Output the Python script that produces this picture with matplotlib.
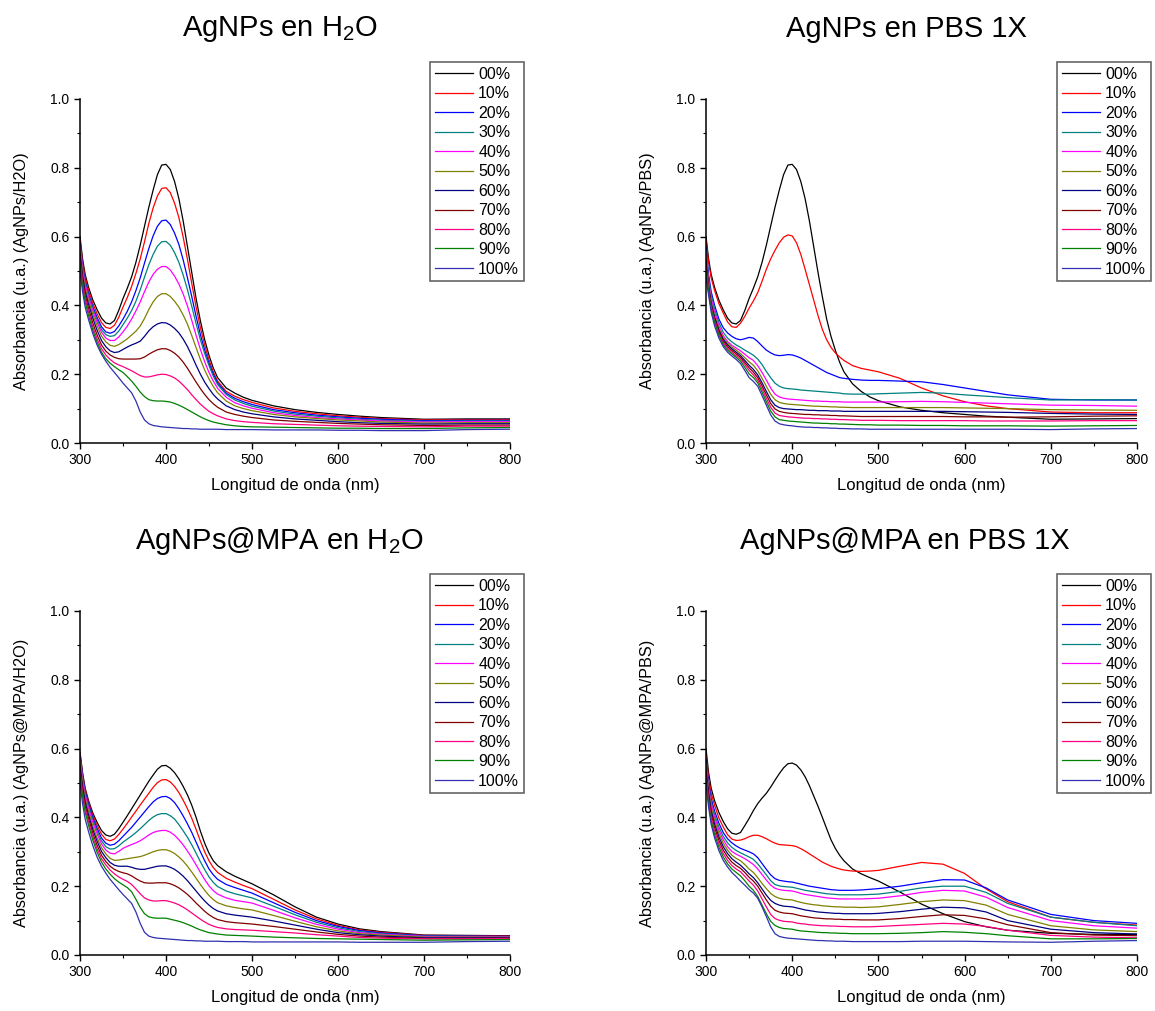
import matplotlib
matplotlib.use("Agg")
import matplotlib.pyplot as plt
from matplotlib.ticker import MultipleLocator

plt.rcParams['font.family'] = ['Liberation Sans', 'DejaVu Sans']
plt.rcParams['mathtext.fontset'] = 'custom'
plt.rcParams['mathtext.rm'] = 'Liberation Sans'

# wavelength grid (nm)
wl = [300, 303, 306, 310, 315, 320, 325, 330, 335, 340, 345, 350, 355, 360, 365, 370,
      375, 380, 385, 390, 395, 400, 405, 410, 415, 420, 425, 430, 435, 440, 445, 450,
      455, 460, 470, 480, 490, 500, 525, 550, 575, 600, 625, 650, 700, 750, 800]

labels = ['00%', '10%', '20%', '30%', '40%', '50%', '60%', '70%', '80%', '90%', '100%']
colors = ['#000000', '#FF0000', '#0000FF', '#008080', '#FF00FF', '#808000',
          '#000080', '#800000', '#FF0080', '#008000', '#3030B0']

# AgNPs en H2O
agnps_h2o = [
    [.60, .535, .49, .452, .415, .387, .363, .349, .346, .356, .385, .42, .45, .483, .525, .575, .63, .685, .735, .78, .808, .81, .795, .76, .71, .645, .57, .495, .42, .355, .30, .255, .218, .19, .16, .145, .133, .124, .108, .097, .089, .083, .078, .074, .069, .07, .07],
    [.59, .525, .48, .443, .405, .375, .35, .336, .333, .342, .365, .395, .423, .455, .493, .535, .585, .638, .683, .718, .74, .742, .728, .697, .655, .598, .533, .463, .395, .335, .285, .242, .207, .18, .15, .136, .126, .118, .102, .092, .085, .079, .075, .071, .067, .068, .068],
    [.58, .515, .47, .433, .395, .364, .338, .323, .319, .324, .34, .36, .383, .41, .443, .48, .523, .565, .602, .63, .646, .648, .635, .61, .577, .532, .48, .425, .368, .315, .27, .232, .20, .175, .145, .13, .12, .112, .097, .088, .081, .076, .072, .069, .065, .066, .066],
    [.575, .51, .465, .428, .39, .357, .33, .315, .31, .312, .325, .344, .363, .385, .412, .445, .482, .518, .548, .572, .585, .586, .575, .553, .525, .488, .445, .397, .347, .30, .26, .225, .194, .17, .141, .125, .115, .107, .093, .084, .078, .073, .069, .066, .063, .064, .064],
    [.57, .505, .46, .423, .383, .35, .322, .305, .298, .298, .308, .323, .34, .36, .384, .41, .44, .468, .49, .505, .513, .513, .503, .485, .462, .433, .398, .356, .313, .272, .236, .205, .18, .159, .133, .117, .108, .101, .088, .08, .074, .07, .067, .064, .061, .062, .062],
    [.56, .495, .45, .413, .373, .34, .311, .294, .284, .281, .286, .294, .303, .314, .325, .34, .362, .388, .41, .426, .434, .434, .426, .412, .395, .372, .345, .312, .277, .243, .212, .186, .164, .146, .122, .108, .10, .094, .083, .076, .071, .067, .064, .061, .058, .059, .059],
    [.55, .485, .44, .403, .362, .327, .298, .28, .268, .263, .265, .272, .279, .285, .29, .296, .31, .326, .338, .346, .35, .349, .343, .333, .32, .302, .28, .254, .226, .20, .177, .158, .141, .128, .108, .097, .09, .085, .076, .07, .066, .062, .059, .057, .055, .056, .056],
    [.54, .475, .43, .39, .348, .313, .285, .267, .256, .249, .245, .244, .244, .244, .244, .245, .25, .258, .265, .271, .274, .274, .269, .261, .25, .235, .217, .197, .177, .158, .141, .126, .114, .104, .09, .083, .078, .074, .067, .063, .06, .057, .055, .053, .051, .052, .052],
    [.53, .465, .42, .38, .337, .302, .274, .256, .243, .233, .227, .222, .216, .21, .203, .196, .192, .192, .195, .198, .20, .199, .195, .189, .18, .168, .155, .14, .126, .113, .102, .092, .085, .079, .07, .065, .062, .06, .056, .054, .052, .05, .049, .048, .047, .049, .049],
    [.52, .455, .41, .37, .327, .292, .264, .245, .232, .222, .213, .205, .193, .18, .165, .148, .135, .126, .123, .122, .122, .121, .119, .115, .11, .104, .097, .09, .083, .076, .07, .065, .061, .058, .053, .05, .048, .047, .046, .045, .044, .043, .043, .042, .042, .044, .045],
    [.50, .44, .395, .358, .317, .284, .258, .238, .22, .205, .19, .174, .16, .146, .122, .09, .067, .056, .051, .049, .047, .046, .045, .044, .043, .042, .042, .041, .041, .04, .04, .04, .04, .04, .039, .039, .039, .039, .038, .038, .038, .037, .037, .036, .036, .039, .04],
]

# AgNPs en PBS 1X
agnps_pbs = [
    [.60, .535, .49, .452, .415, .387, .363, .349, .346, .356, .385, .42, .45, .483, .525, .575, .63, .685, .735, .78, .808, .81, .795, .76, .71, .645, .57, .495, .425, .36, .31, .27, .235, .207, .172, .15, .134, .123, .105, .095, .088, .083, .078, .075, .069, .07, .071],
    [.59, .525, .48, .443, .405, .378, .352, .338, .336, .348, .368, .392, .413, .437, .47, .505, .535, .56, .582, .598, .605, .602, .582, .548, .505, .46, .415, .37, .33, .30, .278, .262, .25, .24, .225, .217, .212, .207, .188, .16, .137, .12, .108, .10, .09, .088, .088],
    [.57, .49, .44, .40, .36, .335, .32, .31, .303, .30, .303, .307, .305, .295, .282, .27, .262, .256, .254, .255, .257, .256, .252, .247, .24, .233, .226, .219, .212, .205, .20, .195, .19, .188, .185, .183, .182, .182, .18, .178, .17, .16, .15, .14, .127, .125, .125],
    [.56, .48, .43, .39, .35, .322, .305, .294, .285, .278, .27, .263, .255, .244, .228, .208, .19, .174, .165, .16, .158, .157, .156, .154, .153, .152, .151, .15, .149, .148, .147, .146, .145, .143, .142, .142, .142, .143, .145, .147, .145, .14, .136, .132, .125, .126, .125],
    [.55, .47, .42, .38, .34, .312, .295, .284, .276, .268, .258, .248, .24, .225, .205, .183, .16, .142, .134, .13, .128, .127, .126, .125, .124, .123, .122, .122, .121, .121, .12, .12, .12, .119, .119, .119, .119, .119, .12, .121, .12, .118, .116, .114, .11, .109, .107],
    [.54, .46, .41, .37, .332, .306, .29, .279, .27, .26, .248, .236, .226, .21, .188, .165, .142, .126, .118, .115, .113, .112, .111, .11, .109, .108, .107, .107, .106, .106, .105, .105, .104, .104, .103, .103, .103, .103, .103, .103, .103, .102, .101, .10, .097, .096, .095],
    [.53, .455, .405, .365, .328, .301, .285, .274, .264, .254, .24, .226, .214, .198, .175, .15, .126, .11, .103, .10, .099, .098, .097, .097, .096, .095, .095, .094, .094, .094, .093, .093, .093, .092, .092, .092, .092, .092, .092, .092, .092, .091, .09, .089, .086, .084, .083],
    [.52, .45, .40, .36, .323, .296, .28, .269, .259, .249, .234, .219, .206, .19, .166, .14, .115, .099, .092, .089, .087, .086, .085, .084, .083, .083, .082, .082, .081, .081, .08, .08, .079, .079, .078, .077, .077, .077, .077, .077, .077, .076, .076, .075, .076, .078, .079],
    [.51, .445, .395, .355, .318, .291, .275, .264, .254, .244, .228, .211, .198, .182, .157, .13, .104, .087, .08, .078, .076, .075, .074, .073, .072, .072, .071, .071, .07, .07, .069, .069, .068, .068, .067, .066, .066, .066, .065, .065, .065, .065, .064, .064, .064, .065, .065],
    [.50, .44, .39, .35, .313, .286, .27, .259, .249, .238, .22, .201, .19, .175, .148, .12, .093, .076, .068, .066, .064, .063, .062, .061, .06, .059, .058, .058, .057, .057, .056, .056, .055, .055, .054, .053, .053, .052, .052, .051, .051, .05, .05, .05, .049, .05, .051],
    [.48, .43, .38, .34, .305, .28, .264, .253, .243, .231, .211, .19, .179, .165, .138, .11, .082, .064, .056, .053, .051, .05, .048, .047, .046, .046, .045, .045, .044, .044, .043, .043, .042, .042, .041, .041, .04, .04, .04, .04, .04, .04, .04, .04, .039, .041, .042],
]

# AgNPs@MPA en H2O
mpa_h2o = [
    [.59, .53, .485, .448, .412, .385, .362, .349, .345, .351, .367, .386, .405, .425, .445, .465, .485, .505, .523, .54, .55, .551, .543, .53, .512, .49, .465, .435, .40, .36, .325, .296, .274, .26, .242, .229, .218, .207, .175, .14, .11, .09, .076, .068, .058, .057, .056],
    [.585, .525, .48, .443, .405, .376, .351, .336, .332, .337, .35, .366, .383, .401, .418, .436, .453, .47, .487, .501, .509, .51, .503, .49, .472, .45, .425, .397, .365, .331, .30, .274, .254, .24, .223, .212, .202, .193, .162, .131, .105, .086, .073, .066, .057, .056, .055],
    [.58, .52, .475, .438, .398, .367, .34, .325, .319, .322, .332, .345, .358, .371, .386, .401, .416, .431, .445, .455, .46, .461, .455, .443, .425, .404, .381, .356, .328, .30, .274, .25, .233, .22, .205, .196, .188, .18, .152, .124, .10, .083, .071, .064, .056, .055, .054],
    [.575, .515, .47, .432, .392, .36, .332, .315, .308, .309, .317, .328, .337, .346, .356, .367, .379, .391, .401, .408, .411, .411, .405, .395, .379, .361, .342, .32, .296, .271, .248, .227, .211, .199, .186, .178, .172, .166, .142, .117, .095, .079, .068, .062, .055, .054, .053],
    [.57, .51, .465, .426, .385, .352, .323, .305, .296, .294, .301, .31, .316, .321, .326, .332, .34, .349, .356, .36, .362, .362, .357, .348, .335, .32, .302, .283, .262, .24, .219, .201, .187, .177, .166, .159, .155, .151, .13, .108, .089, .075, .065, .06, .054, .053, .052],
    [.56, .50, .455, .416, .374, .34, .312, .294, .281, .275, .276, .278, .28, .282, .284, .286, .29, .295, .30, .304, .306, .306, .302, .295, .285, .273, .258, .241, .223, .205, .188, .173, .161, .152, .143, .138, .134, .131, .115, .098, .082, .07, .062, .058, .052, .052, .051],
    [.55, .49, .445, .406, .364, .33, .301, .283, .269, .261, .258, .258, .258, .255, .251, .249, .249, .252, .255, .258, .259, .259, .255, .249, .24, .229, .216, .201, .186, .171, .157, .145, .135, .128, .12, .116, .113, .11, .099, .087, .075, .065, .059, .055, .05, .05, .05],
    [.54, .48, .435, .396, .353, .318, .29, .272, .258, .249, .243, .239, .236, .23, .222, .215, .21, .209, .209, .21, .21, .21, .207, .202, .195, .186, .176, .164, .151, .139, .127, .117, .109, .103, .097, .094, .092, .09, .083, .075, .067, .06, .055, .052, .048, .048, .049],
    [.53, .47, .425, .386, .343, .308, .28, .262, .247, .236, .227, .22, .214, .205, .192, .178, .166, .16, .157, .157, .158, .158, .155, .151, .146, .139, .131, .122, .113, .104, .096, .089, .084, .08, .076, .074, .073, .072, .068, .064, .059, .055, .051, .049, .047, .047, .048],
    [.52, .46, .415, .376, .333, .298, .27, .25, .235, .222, .212, .204, .196, .184, .162, .138, .12, .111, .108, .107, .107, .107, .104, .101, .098, .094, .089, .084, .078, .073, .069, .065, .063, .061, .058, .057, .056, .055, .052, .05, .048, .047, .046, .045, .043, .044, .045],
    [.50, .44, .395, .358, .317, .284, .258, .238, .22, .205, .19, .176, .163, .15, .125, .092, .066, .055, .051, .049, .048, .047, .046, .045, .044, .043, .042, .042, .041, .041, .04, .04, .04, .04, .039, .039, .039, .038, .038, .038, .038, .038, .037, .037, .037, .039, .04],
]

# AgNPs@MPA en PBS 1X
mpa_pbs = [
    [.60, .53, .485, .448, .414, .388, .367, .354, .351, .356, .376, .397, .42, .44, .456, .47, .488, .508, .527, .544, .556, .558, .552, .538, .518, .492, .462, .432, .40, .367, .335, .31, .29, .274, .25, .236, .225, .215, .183, .148, .12, .097, .082, .072, .063, .06, .06],
    [.58, .515, .47, .435, .398, .372, .35, .337, .333, .334, .338, .344, .348, .348, .344, .338, .331, .325, .321, .32, .319, .318, .315, .309, .302, .294, .286, .278, .27, .264, .258, .254, .25, .247, .244, .243, .244, .246, .258, .269, .264, .237, .192, .155, .11, .095, .087],
    [.57, .50, .455, .418, .383, .356, .338, .326, .317, .31, .305, .30, .294, .283, .266, .249, .233, .222, .217, .215, .213, .212, .209, .206, .203, .20, .198, .196, .194, .192, .19, .189, .188, .188, .188, .189, .191, .193, .20, .21, .219, .218, .195, .16, .118, .10, .092],
    [.56, .49, .445, .408, .372, .345, .326, .313, .304, .297, .291, .285, .278, .265, .249, .233, .216, .205, .201, .199, .198, .197, .194, .191, .188, .186, .184, .182, .18, .178, .177, .176, .175, .175, .175, .175, .176, .177, .185, .195, .20, .20, .182, .15, .11, .095, .085],
    [.555, .485, .44, .40, .363, .335, .315, .301, .293, .287, .28, .272, .263, .25, .234, .218, .203, .194, .19, .188, .187, .186, .183, .179, .176, .174, .172, .17, .168, .166, .165, .164, .163, .163, .163, .163, .164, .165, .172, .182, .188, .186, .168, .138, .10, .085, .078],
    [.55, .48, .43, .39, .353, .325, .305, .29, .281, .274, .263, .25, .24, .225, .208, .193, .179, .17, .165, .162, .161, .16, .156, .153, .15, .148, .146, .145, .143, .142, .141, .14, .14, .139, .139, .138, .139, .14, .147, .155, .16, .158, .145, .118, .085, .073, .068],
    [.54, .47, .42, .38, .343, .315, .295, .28, .27, .261, .249, .236, .225, .21, .192, .174, .159, .15, .145, .142, .141, .14, .137, .134, .131, .129, .127, .125, .124, .123, .122, .121, .121, .12, .12, .12, .12, .121, .126, .133, .139, .137, .125, .10, .075, .065, .061],
    [.53, .46, .41, .37, .333, .305, .285, .27, .26, .252, .24, .226, .215, .20, .18, .16, .142, .13, .125, .122, .121, .12, .117, .114, .112, .11, .108, .107, .106, .105, .105, .104, .104, .103, .103, .102, .102, .102, .106, .112, .117, .115, .105, .088, .065, .058, .056],
    [.52, .45, .40, .36, .323, .295, .275, .26, .25, .242, .229, .215, .203, .186, .163, .14, .118, .106, .101, .098, .097, .096, .093, .091, .09, .088, .087, .086, .085, .085, .084, .084, .083, .083, .082, .082, .082, .083, .086, .089, .092, .09, .083, .072, .057, .052, .05],
    [.51, .44, .39, .35, .313, .285, .265, .25, .24, .23, .216, .20, .188, .17, .145, .12, .098, .086, .08, .077, .076, .075, .072, .07, .069, .068, .067, .066, .065, .065, .064, .064, .063, .063, .062, .062, .062, .062, .063, .065, .068, .066, .062, .056, .047, .047, .048],
    [.50, .43, .38, .34, .303, .275, .256, .24, .228, .215, .203, .19, .18, .165, .14, .112, .082, .062, .054, .051, .049, .048, .047, .046, .045, .044, .043, .042, .042, .041, .041, .04, .04, .04, .039, .039, .039, .039, .039, .04, .04, .04, .039, .038, .037, .04, .042],
]

panels = [
    (agnps_h2o, 'AgNPs en H$_\\mathregular{2}$O', 'Absorbancia (u.a.) (AgNPs/H2O)'),
    (agnps_pbs, 'AgNPs en PBS 1X', 'Absorbancia (u.a.) (AgNPs/PBS)'),
    (mpa_h2o, 'AgNPs@MPA en H$_\\mathregular{2}$O', 'Absorbancia (u.a.) (AgNPs@MPA/H2O)'),
    (mpa_pbs, 'AgNPs@MPA en PBS 1X', 'Absorbancia (u.a.) (AgNPs@MPA/PBS)'),
]

for data, _, name in panels:
    for row in data:
        assert len(row) == len(wl), (name, len(row))

W, H = 1155, 1011
fig = plt.figure(figsize=(W / 100, H / 100), dpi=100)

# pixel boxes: left, right, top, bottom of each plot area
boxes = [(80, 510, 99, 443), (706, 1137, 99, 443),
         (80, 510, 611, 955), (706, 1137, 611, 955)]
title_pos = [(280, 29), (906, 29), (279, 541), (905, 541)]
legend_corner = [(524, 62), (1151, 62), (524, 574), (1151, 574)]

for i, (data, title, ylab) in enumerate(panels):
    l, r, t, b = boxes[i]
    ax = fig.add_axes([l / W, 1 - b / H, (r - l) / W, (b - t) / H])
    for k in range(len(labels)):
        ax.plot(wl, data[k], color=colors[k], lw=0.9, label=labels[k])
    ax.set_xlim(300, 800)
    ax.set_ylim(0, 1.0)
    ax.xaxis.set_major_locator(MultipleLocator(100))
    ax.xaxis.set_minor_locator(MultipleLocator(50))
    ax.yaxis.set_major_locator(MultipleLocator(0.2))
    ax.yaxis.set_minor_locator(MultipleLocator(0.1))
    ax.yaxis.set_major_formatter(plt.FormatStrFormatter('%.1f'))
    for s in ['top', 'right']:
        ax.spines[s].set_visible(False)
    for s in ['left', 'bottom']:
        ax.spines[s].set_linewidth(1.1)
    ax.tick_params(which='major', direction='out', length=4, width=1, labelsize=10)
    ax.tick_params(which='minor', direction='out', length=2.5, width=0.8)
    ax.set_xlabel('Longitud de onda (nm)', fontsize=12)
    ax.set_ylabel(ylab, fontsize=11.7)
    ax.xaxis.set_label_coords(0.5, -0.102)
    ax.yaxis.set_label_coords(-0.118, 0.5)

    tx, ty = title_pos[i]
    fig.text(tx / W, 1 - ty / H, title, fontsize=21, ha='center', va='center')

    lx, ly = legend_corner[i]
    leg = ax.legend(loc='upper right', bbox_to_anchor=(lx / W, 1 - ly / H),
                    bbox_transform=fig.transFigure, borderaxespad=0,
                    fontsize=11.5, handlelength=2.4, labelspacing=0.28,
                    handletextpad=0.3, borderpad=0.3, fancybox=False, frameon=True)
    leg.get_frame().set_edgecolor('#404040')
    leg.get_frame().set_linewidth(1.2)

fig.savefig('out.png', dpi=100)
